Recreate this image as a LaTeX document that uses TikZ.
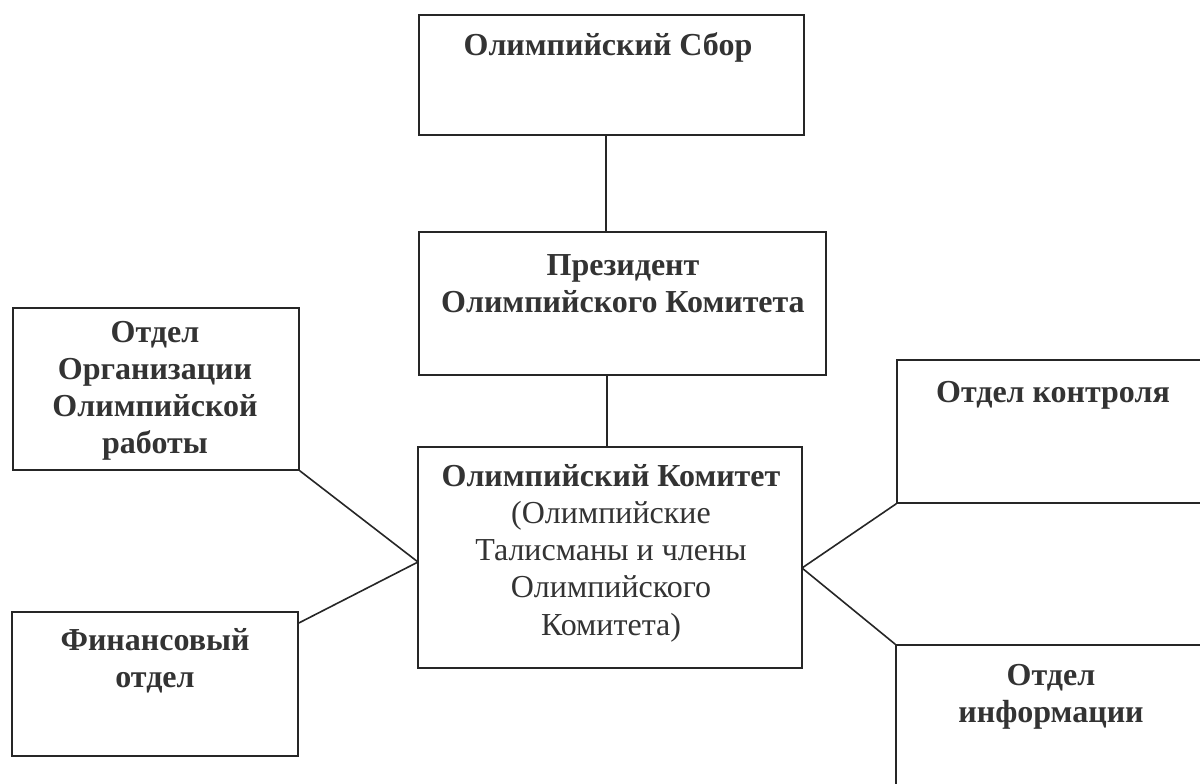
\documentclass[tikz,border=0pt]{standalone}
\usepackage{fontspec}
\setmainfont{Liberation Serif}
\usetikzlibrary{fit}
\begin{document}
\begin{tikzpicture}[x=0.5pt,y=-0.5pt,
  box/.style={draw=black!85, line width=0.8pt, inner sep=0pt},
  lbl/.style={align=center, font=\fontsize{16}{18.6}\selectfont, text=black!80, inner sep=0pt},
  blbl/.style={lbl, font=\fontsize{16}{18.6}\selectfont\bfseries},
  conn/.style={draw=black!85, line width=0.8pt}]
\useasboundingbox (0,0) rectangle (1200,783);
\clip (0,0) rectangle (1200,783);
\fill[white] (0,0) rectangle (1200,783);
% boxes
\node[box, fit={(419,15) (804,135)}] (sbor) {};
\node[box, fit={(419,232) (826,375)}] (pres) {};
\node[box, fit={(418,447) (802,668)}] (cen) {};
\node[box, fit={(13,308) (299,470)}] (org) {};
\node[box, fit={(12,612) (298,756)}] (fin) {};
\node[box, fit={(897,360) (1215,503)}] (ctl) {};
\node[box, fit={(896,645) (1215,800)}] (inf) {};
% texts
\node[blbl] (tsbor) at (608,47) {Олимпийский Сбор};
\node[blbl] (tpres) at (623,284) {Президент\\Олимпийского Комитета};
\node[lbl] (tcen) at (611,553) {{\bfseries Олимпийский Комитет}\\(Олимпийские\\Талисманы и члены\\Олимпийского\\Комитета)};
\node[blbl] (torg) at (155,391) {Отдел\\Организации\\Олимпийской\\работы};
\node[blbl] (tfin) at (155,661) {Финансовый\\отдел};
\node[blbl] (tctl) at (1053,395) {Отдел контроля};
\node[blbl] (tinf) at (1051,697) {Отдел\\информации};
% connection points
\coordinate (cl) at (418,562);
\coordinate (cr) at (802,568);
\coordinate (v1) at (606,0);
\coordinate (v2) at (607,0);
% connectors
\draw[conn] (sbor.south -| v1) -- (pres.north -| v1);
\draw[conn] (pres.south -| v2) -- (cen.north -| v2);
\draw[conn] (org.south east) -- (cl);
\draw[conn] (fin.east |- 0,623) -- (cl);
\draw[conn] (ctl.south west) -- (cr);
\draw[conn] (inf.north west) -- (cr);
\end{tikzpicture}
\end{document}
